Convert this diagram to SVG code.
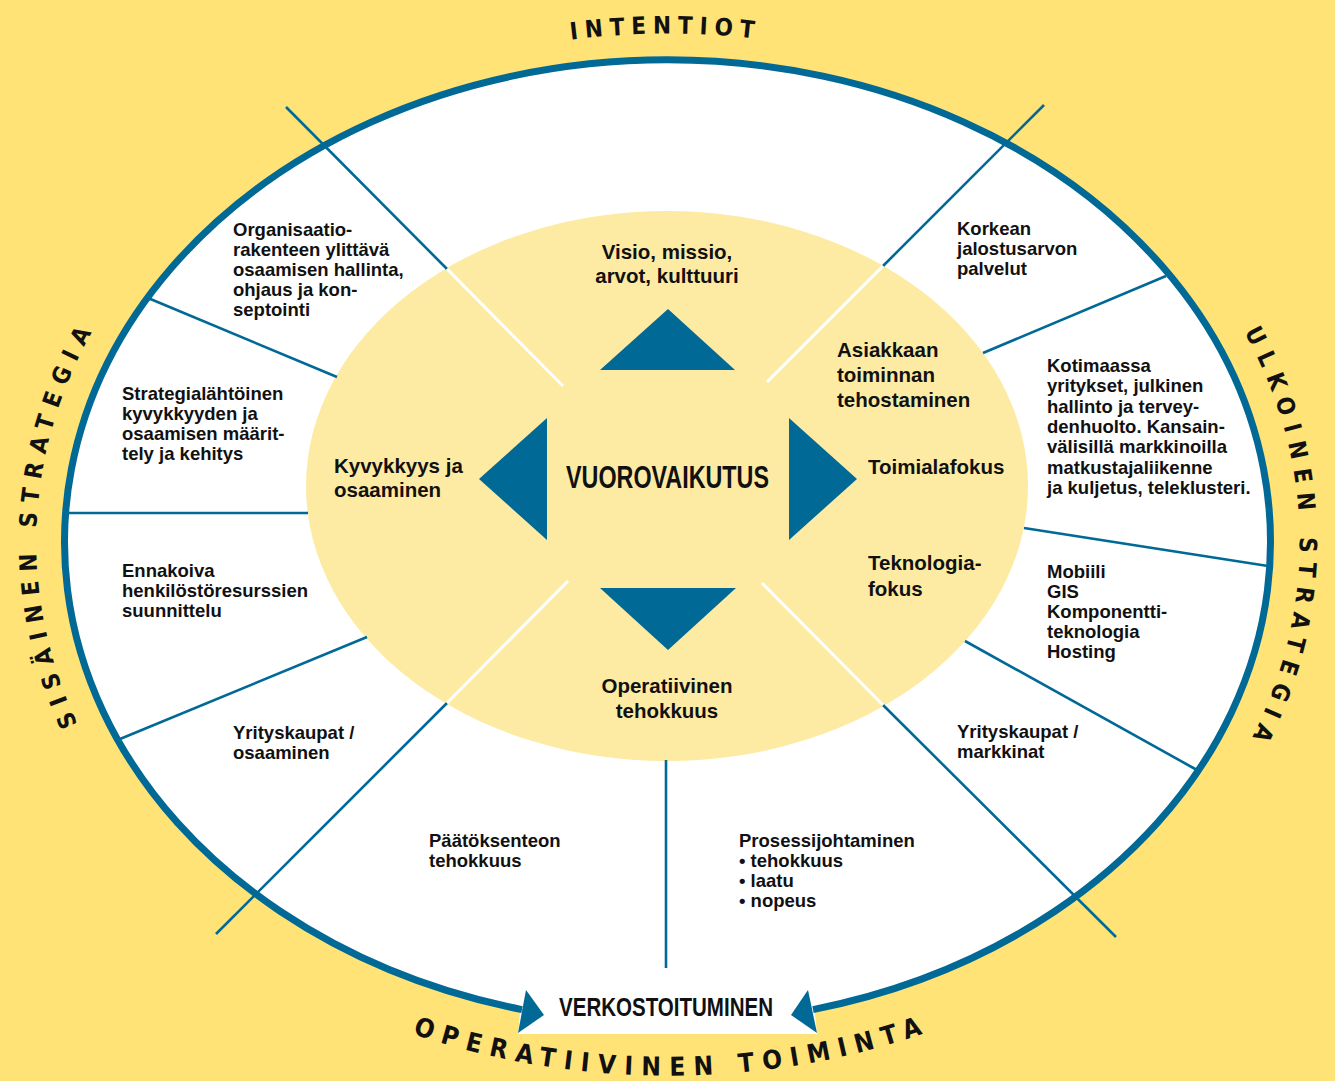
<svg xmlns="http://www.w3.org/2000/svg" width="1335" height="1081" viewBox="0 0 1335 1081">
<style>
.bg{fill:#FFE377}
.ring{fill:none;stroke:#006996;stroke-width:7}
.inner{fill:#FDEBA4}
.div{stroke:#006996;stroke-width:2.6;fill:none}
.wdiv{stroke:#FFFFFF;stroke-width:3;fill:none}
.tri{fill:#006996}
.t{font-family:"Liberation Sans",Arial,sans-serif;font-weight:bold;font-size:18.5px;fill:#111}
.ti{font-family:"Liberation Sans",Arial,sans-serif;font-weight:bold;font-size:20.5px;fill:#111}
.big{font-family:"Liberation Sans",Arial,sans-serif;font-weight:bold;fill:#111}
.arc{font-family:"DejaVu Sans Condensed","DejaVu Sans",sans-serif;font-stretch:condensed;font-weight:bold;fill:#111}
</style>
<defs>
<path id="pTop" d="M368,95 A630,509 0 0 1 968,95"/>
<path id="pLeft" d="M156,842 A634,513 0 0 1 156,242"/>
<path id="pRight" d="M1180,242 A634,513 0 0 1 1180,842"/>
<path id="pBottom" d="M348,1008 A657,534 0 0 0 988,1008"/>
</defs>
<rect class="bg" x="0" y="0" width="1335" height="1081"/>
<g id="frame">
<ellipse cx="668" cy="542" rx="603" ry="482" fill="#FFFFFF"/>
<polygon points="524,975 518,1034 817,1034 811,975" fill="#FFFFFF"/>
<ellipse class="inner" cx="667" cy="486" rx="361" ry="275"/>
</g>
<g id="connectors">
<line class="div" x1="286" y1="107" x2="447" y2="269"/>
<line class="wdiv" x1="447" y1="269" x2="563" y2="386"/>
<line class="div" x1="1044" y1="105" x2="883" y2="266"/>
<line class="wdiv" x1="883" y1="266" x2="767" y2="382"/>
<line class="div" x1="216" y1="934" x2="447" y2="703"/>
<line class="wdiv" x1="447" y1="703" x2="568" y2="581"/>
<line class="div" x1="1116" y1="937" x2="883" y2="705"/>
<line class="wdiv" x1="883" y1="705" x2="762" y2="583"/>
<line class="div" x1="148" y1="298" x2="337" y2="377"/>
<line class="div" x1="66" y1="513" x2="308" y2="513"/>
<line class="div" x1="120" y1="739" x2="367" y2="637"/>
<line class="div" x1="1166" y1="276" x2="983" y2="353"/>
<line class="div" x1="1024" y1="528" x2="1268" y2="566"/>
<line class="div" x1="965" y1="641" x2="1197" y2="770"/>
<line class="div" x1="666" y1="760" x2="666" y2="968"/>
<path class="ring" d="M522,1009.6 A603,482 0 1 1 813,1009.6"/>
<polygon class="tri" points="526,990 544,1015 518,1033"/>
<polygon class="tri" points="808,990 791,1015 817,1033"/>
</g>
<g id="center">
<polygon class="tri" points="600,370 735,370 668,309"/>
<polygon class="tri" points="600,588 736,588 668,650"/>
<polygon class="tri" points="479,479 547,418 547,540"/>
<polygon class="tri" points="857,479 789,418 789,540"/>
<text class="big" x="566" y="488" font-size="32" textLength="203" lengthAdjust="spacingAndGlyphs">VUOROVAIKUTUS</text>
</g>
<g id="n-visio"><text class="ti" text-anchor="middle"><tspan x="667" y="259">Visio, missio,</tspan><tspan x="667" y="283">arvot, kulttuuri</tspan></text></g>
<g id="n-asiakkaan"><text class="ti"><tspan x="837" y="357">Asiakkaan</tspan><tspan x="837" y="382">toiminnan</tspan><tspan x="837" y="407">tehostaminen</tspan></text></g>
<g id="n-toimiala"><text class="ti" x="868" y="474">Toimialafokus</text></g>
<g id="n-teknologia"><text class="ti"><tspan x="868" y="570">Teknologia-</tspan><tspan x="868" y="596">fokus</tspan></text></g>
<g id="n-kyvykkyys"><text class="ti"><tspan x="334" y="473">Kyvykkyys ja</tspan><tspan x="334" y="497">osaaminen</tspan></text></g>
<g id="n-operatiivinen"><text class="ti" text-anchor="middle"><tspan x="667" y="693">Operatiivinen</tspan><tspan x="667" y="718">tehokkuus</tspan></text></g>
<g id="n-organisaatio"><text class="t"><tspan x="233" y="236">Organisaatio-</tspan><tspan x="233" y="256">rakenteen ylittävä</tspan><tspan x="233" y="276">osaamisen hallinta,</tspan><tspan x="233" y="296">ohjaus ja kon-</tspan><tspan x="233" y="316">septointi</tspan></text></g>
<g id="n-strategia"><text class="t"><tspan x="122" y="400">Strategialähtöinen</tspan><tspan x="122" y="420">kyvykkyyden ja</tspan><tspan x="122" y="440">osaamisen määrit-</tspan><tspan x="122" y="460">tely ja kehitys</tspan></text></g>
<g id="n-ennakoiva"><text class="t"><tspan x="122" y="577">Ennakoiva</tspan><tspan x="122" y="597">henkilöstöresurssien</tspan><tspan x="122" y="617">suunnittelu</tspan></text></g>
<g id="n-yrityskaupat-osaaminen"><text class="t"><tspan x="233" y="739">Yrityskaupat /</tspan><tspan x="233" y="759">osaaminen</tspan></text></g>
<g id="n-paatoksenteon"><text class="t"><tspan x="429" y="847">Päätöksenteon</tspan><tspan x="429" y="867">tehokkuus</tspan></text></g>
<g id="n-prosessi"><text class="t"><tspan x="739" y="847">Prosessijohtaminen</tspan><tspan x="739" y="867">• tehokkuus</tspan><tspan x="739" y="887">• laatu</tspan><tspan x="739" y="907">• nopeus</tspan></text></g>
<g id="n-korkean"><text class="t"><tspan x="957" y="235">Korkean</tspan><tspan x="957" y="255">jalostusarvon</tspan><tspan x="957" y="275">palvelut</tspan></text></g>
<g id="n-kotimaassa"><text class="t"><tspan x="1047" y="372">Kotimaassa</tspan><tspan x="1047" y="392">yritykset, julkinen</tspan><tspan x="1047" y="413">hallinto ja tervey-</tspan><tspan x="1047" y="433">denhuolto. Kansain-</tspan><tspan x="1047" y="453">välisillä markkinoilla</tspan><tspan x="1047" y="474">matkustajaliikenne</tspan><tspan x="1047" y="494">ja kuljetus, teleklusteri.</tspan></text></g>
<g id="n-mobiili"><text class="t"><tspan x="1047" y="578">Mobiili</tspan><tspan x="1047" y="598">GIS</tspan><tspan x="1047" y="618">Komponentti-</tspan><tspan x="1047" y="638">teknologia</tspan><tspan x="1047" y="658">Hosting</tspan></text></g>
<g id="n-yrityskaupat-markkinat"><text class="t"><tspan x="957" y="738">Yrityskaupat /</tspan><tspan x="957" y="758">markkinat</tspan></text></g>
<g id="n-verkostoituminen"><text class="big" x="559" y="1016" font-size="26.5" textLength="214" lengthAdjust="spacingAndGlyphs">VERKOSTOITUMINEN</text></g>
<g id="labels">
<text class="arc" font-size="24" letter-spacing="6.7" text-anchor="middle"><textPath href="#pTop" startOffset="49.6%">INTENTIOT</textPath></text>
<text class="arc" font-size="24" letter-spacing="8.9" text-anchor="middle"><textPath href="#pLeft" startOffset="53%">SISÄINEN STRATEGIA</textPath></text>
<text class="arc" font-size="24" letter-spacing="9.2" text-anchor="middle"><textPath href="#pRight" startOffset="49.4%">ULKOINEN STRATEGIA</textPath></text>
<text class="arc" font-size="26" letter-spacing="8.6" text-anchor="middle"><textPath href="#pBottom" startOffset="50.6%">OPERATIIVINEN TOIMINTA</textPath></text>
</g>
</svg>
